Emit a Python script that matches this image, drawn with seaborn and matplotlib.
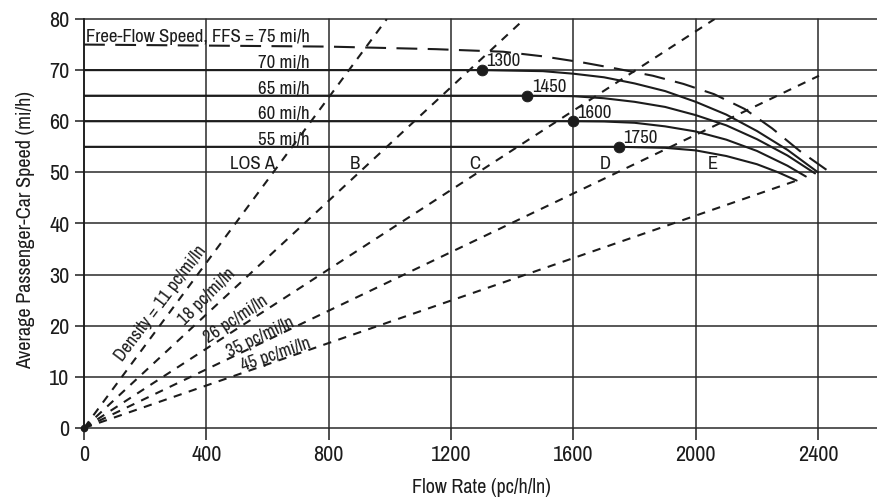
import matplotlib
matplotlib.use("Agg")
import matplotlib.pyplot as plt
import matplotlib.font_manager as fm
import seaborn as sns
import pandas as pd

# ---------------- data ----------------
x_ticks = [0, 400, 800, 1200, 1600, 2000, 2400]
y_ticks = [0, 10, 20, 30, 40, 50, 60, 70, 80]
y_extra_grid = [55, 65]

ffs_values = [75, 70, 65, 60, 55]
ffs_label_texts = ["Free-Flow Speed, FFS = 75 mi/h", "70 mi/h", "65 mi/h", "60 mi/h", "55 mi/h"]

flow_75 = [0, 800, 1150, 1370, 1500, 1630, 1740, 1860, 1960, 2060, 2160, 2250, 2340, 2430]
speed_75 = [75, 74.6, 74.1, 73.6, 72.7, 71.5, 70.3, 68.9, 67.3, 65.3, 62.4, 58.6, 54.2, 50.4]

flow_70 = [0, 1300, 1500, 1600, 1700, 1800, 1900, 2000, 2100, 2200, 2300, 2400]
speed_70 = [70, 70, 69.8, 69.3, 68.6, 67.4, 65.9, 63.8, 61.3, 58.1, 54.4, 50.0]

flow_65 = [0, 1450, 1600, 1700, 1800, 1900, 2000, 2100, 2200, 2300, 2390]
speed_65 = [65, 65, 64.9, 64.5, 63.8, 62.8, 61.2, 59.2, 56.5, 53.3, 49.8]

flow_60 = [0, 1600, 1700, 1800, 1900, 2000, 2100, 2200, 2300, 2360]
speed_60 = [60, 60, 59.95, 59.7, 59.0, 58.0, 56.4, 54.2, 51.3, 49.2]

flow_55 = [0, 1750, 1900, 2000, 2100, 2200, 2270, 2330]
speed_55 = [55, 55, 54.8, 54.3, 53.2, 51.6, 50.0, 48.4]

break_flows = [1300, 1450, 1600, 1750]
break_speeds = [70, 65, 60, 55]
break_labels = ["1300", "1450", "1600", "1750"]

density_values = [11, 18, 26, 35, 45]
density_texts = ["Density = 11 pc/mi/ln", "18 pc/mi/ln", "26 pc/mi/ln", "35 pc/mi/ln", "45 pc/mi/ln"]
ray_start_flow = [0, 0, 0, 0, 0]
ray_start_speed = [0, 0, 0, 0, 0]
ray_end_flow = [990, 1440, 2062, 2403, 2330]
ray_end_speed = [80, 80, 80, 68.9, 48.4]
density_label_flow = [252, 403, 498, 577, 626]
density_label_speed = [24.3, 25.6, 21.3, 17.8, 14.3]
density_label_rot = [53, 45, 33.5, 25.5, 19]

los_texts = ["LOS A", "B", "C", "D", "E"]
los_flow = [550, 886, 1279, 1704, 2057]
los_speed = [50.7, 50.7, 50.7, 50.7, 50.7]

# ---------------- style ----------------
sns.set_theme(style="white")
avail = {f.name for f in fm.fontManager.ttflist}
fam = "Liberation Sans"
for cand in ["Liberation Sans Narrow", "Archivo Narrow", "Roboto Condensed",
             "PT Sans Narrow", "Asap Condensed"]:
    if cand in avail:
        fam = cand
        break
plt.rcParams["font.family"] = [fam, "DejaVu Sans"]
k = 1.0

INK = "#1c1c1c"
fig = plt.figure(figsize=(8.78, 4.97), dpi=100)
ax = fig.add_axes([84 / 878, 69 / 497, 794 / 878, 409 / 497])
ax.set_facecolor("white")

# curves
curves = pd.concat([
    pd.DataFrame({"flow": flow_70, "speed": speed_70, "ffs": 70}),
    pd.DataFrame({"flow": flow_65, "speed": speed_65, "ffs": 65}),
    pd.DataFrame({"flow": flow_60, "speed": speed_60, "ffs": 60}),
    pd.DataFrame({"flow": flow_55, "speed": speed_55, "ffs": 55}),
])
sns.lineplot(data=curves, x="flow", y="speed", units="ffs", estimator=None,
             sort=False, color=INK, lw=1.5, ax=ax, zorder=4)
df75 = pd.DataFrame({"flow": flow_75, "speed": speed_75})
sns.lineplot(data=df75, x="flow", y="speed", estimator=None, sort=False,
             color=INK, lw=1.5, ax=ax, zorder=4, linestyle=(0, (10, 5)))

# density rays
for i in range(len(density_values)):
    rdf = pd.DataFrame({"flow": [ray_start_flow[i], ray_end_flow[i]],
                        "speed": [ray_start_speed[i], ray_end_speed[i]]})
    sns.lineplot(data=rdf, x="flow", y="speed", estimator=None, sort=False,
                 color=INK, lw=1.5, ax=ax, zorder=3, linestyle=(0, (4, 3.6)))
    ax.text(density_label_flow[i], density_label_speed[i], density_texts[i],
            rotation=density_label_rot[i], rotation_mode="anchor",
            ha="center", va="center", fontsize=13 * k, color=INK, zorder=5)

# breakpoints
bp = pd.DataFrame({"flow": break_flows, "speed": break_speeds})
sns.scatterplot(data=bp, x="flow", y="speed", color=INK, s=60, edgecolor=INK,
                ax=ax, zorder=6)
for f, s, t in zip(break_flows, break_speeds, break_labels):
    ax.annotate(t, (f, s), xytext=(3, 0.5), textcoords="offset points",
                ha="left", va="bottom", fontsize=13.5 * k, color=INK)

# origin dot
ax.plot([ray_start_flow[0]], [ray_start_speed[0]], "o", color=INK, ms=4.5,
        clip_on=False, zorder=6)

# FFS labels
for v, t in zip(ffs_values, ffs_label_texts):
    ax.text(737, v + 0.5, t, ha="right", va="baseline",
            fontsize=13.5 * k, color=INK)

# LOS labels
for f, s, t in zip(los_flow, los_speed, los_texts):
    ax.text(f, s, t, ha="center", va="baseline", fontsize=13.5 * k, color=INK)

# axes
ax.set_xlim(0, 2596)
ax.set_ylim(0, 80)
ax.set_xticks(x_ticks)
ax.set_yticks(y_ticks)
ax.set_yticks(y_extra_grid, minor=True)
ax.grid(True, which="both", axis="y", color="#2a2a2a", lw=1.1)
ax.grid(True, which="major", axis="x", color="#2a2a2a", lw=1.1)
for tk in (ax.xaxis.get_major_ticks() + ax.yaxis.get_major_ticks()
           + ax.yaxis.get_minor_ticks()):
    tk.gridline.set_clip_on(False)
for sp in ["top", "right", "bottom"]:
    ax.spines[sp].set_visible(False)
ax.spines["left"].set_color(INK)
ax.spines["left"].set_linewidth(1.2)
ax.tick_params(axis="x", direction="out", length=8.6, width=1.1, color=INK,
               pad=3.5, labelsize=16 * k, labelcolor=INK, bottom=True)
ax.tick_params(axis="y", which="major", direction="out", length=6.5, width=1.1,
               color=INK, pad=4, labelsize=16 * k, labelcolor=INK, left=True)
ax.tick_params(axis="y", which="minor", length=0)

ax.set_xlabel("Flow Rate (pc/h/ln)", fontsize=14.5 * k, color=INK)
ax.set_ylabel("Average Passenger-Car Speed (mi/h)", fontsize=14.5 * k, color=INK)
ax.xaxis.set_label_coords(0.5, -0.122)
ax.yaxis.set_label_coords(-0.062, 0.485)

fig.savefig("out.png", dpi=100, facecolor="white")
